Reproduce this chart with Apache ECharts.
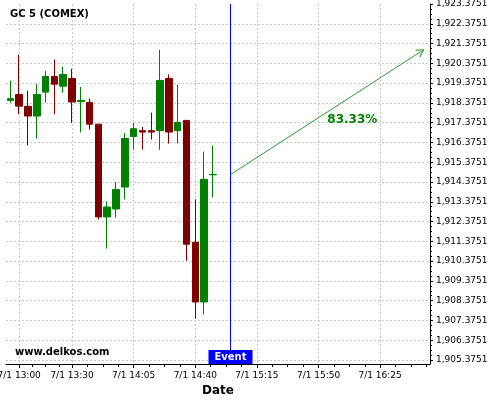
<!DOCTYPE html>
<html>
<head>
<meta charset="utf-8">
<script src="https://cdn.jsdelivr.net/npm/echarts@6/dist/echarts.min.js"></script>
<style>
html,body{margin:0;padding:0;background:#fff;}
#main{width:500px;height:400px;}
</style>
</head>
<body>
<div id="main"></div>
<script>
// ---- data ----
var times = ['12:55','13:00','13:05','13:10','13:15','13:20','13:25','13:30','13:35','13:40','13:45','13:50',
             '13:55','14:00','14:05','14:10','14:15','14:20','14:25','14:30','14:35','14:40','14:45','14:50'];
var opens  = [1918.50,1918.80,1918.20,1917.71,1918.92,1919.71,1919.22,1919.61,1918.44,1918.40,1917.30,1912.61,
              1913.01,1914.12,1916.68,1916.97,1916.97,1916.97,1919.61,1916.97,1917.49,1911.33,1908.31,1914.74];
var closes = [1918.59,1918.21,1917.71,1918.80,1919.71,1919.32,1919.81,1918.42,1918.50,1917.30,1912.61,1913.11,
              1913.99,1916.57,1917.07,1916.90,1916.90,1919.51,1916.90,1917.39,1911.23,1908.31,1914.51,1914.76];
var lows   = [1918.39,1917.80,1916.22,1916.57,1918.39,1917.80,1918.89,1917.37,1916.88,1917.02,1912.48,1911.01,
              1912.58,1913.49,1916.01,1916.01,1916.52,1916.01,1916.32,1916.32,1910.39,1907.46,1907.68,1913.59];
var highs  = [1919.50,1920.81,1918.99,1919.32,1920.00,1920.57,1920.20,1920.10,1919.19,1918.59,1917.30,1913.40,
              1914.38,1916.85,1917.37,1917.16,1917.88,1921.06,1919.82,1919.29,1917.49,1913.50,1915.91,1916.21];

var xTickTimes = ['13:00','13:30','14:05','14:40','15:15','15:50','16:25'];
var xDatePrefix = '7/1 ';
var yTicks = [1905.3751,1906.3751,1907.3751,1908.3751,1909.3751,1910.3751,1911.3751,1912.3751,1913.3751,
              1914.3751,1915.3751,1916.3751,1917.3751,1918.3751,1919.3751,1920.3751,1921.3751,1922.3751,1923.3751];

var eventTime = '15:00';
var forecastStart = ['15:00', 1914.75];
var forecastEnd = ['16:50', 1921.08];
var forecastText = '83.33%';
var titleText = 'GC 5 (COMEX)';
var siteText = 'www.delkos.com';
var xName = 'Date';
var eventText = 'Event';

// axis range
var xMinT = '12:52.5', xMaxT = '16:53.3';
var yMin = 1905.173, yMax = 1923.3751;

function toMin(t){ var p = t.split(':'); return parseInt(p[0],10)*60 + parseFloat(p[1]); }
function pad(n){ return (n<10?'0':'')+n; }
function fmtTime(m){ var h=Math.floor(m/60), mm=Math.round(m-h*60); return h+':'+pad(mm); }
function fmtNum(v){
  var s = v.toFixed(4).split('.');
  return s[0].replace(/\B(?=(\d{3})+(?!\d))/g, ',') + '.' + s[1];
}

var candleData = times.map(function(t,i){ return [toMin(t), opens[i], closes[i], lows[i], highs[i]]; });
var xMajor = xTickTimes.map(toMin);
var xMinor = [];
for (var i=0;i<xMajor.length;i++){
  var step = (i < xMajor.length-1) ? (xMajor[i+1]-xMajor[i]) : (xMajor[i]-xMajor[i-1]);
  for (var k=1;k<4;k++){ var v = xMajor[i] + step*k/4; if (v < toMin(xMaxT)) xMinor.push(v); }
}
var yMinor = [];
for (var j=0;j<yTicks.length-1;j++){ for (var q=1;q<4;q++) yMinor.push(yTicks[j]+q*0.25); }
var yGrid = yTicks.filter(function(v){ return v < yMax - 0.01; });

var fs = [toMin(forecastStart[0]), forecastStart[1]];
var fe = [toMin(forecastEnd[0]), forecastEnd[1]];
var mid = [(fs[0]+fe[0])/2, (fs[1]+fe[1])/2];

var FONT = 'DejaVu Sans';
var gridLine = {show:true, lineStyle:{color:'#c8c8c8', type:[2,2], width:1}};

var chart = echarts.init(document.getElementById('main'), null, {renderer:'canvas'});
var baseX = {type:'value', gridIndex:0, position:'bottom', min:toMin(xMinT), max:toMin(xMaxT), scale:true};
var baseY = {type:'value', gridIndex:0, position:'right', min:yMin, max:yMax, scale:true};

chart.setOption({
  animation:false,
  backgroundColor:'#fff',
  textStyle:{fontFamily:FONT},
  title:[
    {text:titleText, left:10, top:9, padding:0, textStyle:{fontFamily:FONT, fontSize:10, fontWeight:'bold', color:'#000'}},
    {text:siteText, left:15, top:347, padding:0, textStyle:{fontFamily:FONT, fontSize:10, fontWeight:'bold', color:'#000'}}
  ],
  grid:{left:6, right:70, top:4, bottom:36, containLabel:false, outerBoundsMode:'none'},
  xAxis:[
    Object.assign({}, baseX, {
      name:xName, nameLocation:'middle', nameGap:19,
      nameTextStyle:{fontFamily:FONT, fontSize:12, fontWeight:'bold', color:'#000'},
      axisLine:{show:true, onZero:false, lineStyle:{color:'#000', width:1}},
      axisTick:{show:true, length:4, customValues:xMajor, lineStyle:{color:'#000'}},
      axisLabel:{show:true, customValues:xMajor, margin:7, fontFamily:FONT, fontSize:9, color:'#000',
        hideOverlap:false, formatter:function(v){ return xDatePrefix + fmtTime(v); }},
      splitLine:gridLine
    }),
    Object.assign({}, baseX, {
      axisLine:{show:false, onZero:false},
      axisTick:{show:true, length:3, customValues:xMinor, lineStyle:{color:'#000'}},
      axisLabel:{show:false},
      splitLine:{show:false}
    })
  ],
  yAxis:[
    Object.assign({}, baseY, {
      axisLine:{show:true, onZero:false, lineStyle:{color:'#000', width:1}},
      axisTick:{show:true, length:3, customValues:yTicks, lineStyle:{color:'#000'}},
      axisLabel:{show:true, customValues:yTicks, margin:6, fontFamily:FONT, fontSize:9, color:'#000',
        formatter:function(v){ return fmtNum(v); }},
      splitLine:{show:false}
    }),
    Object.assign({}, baseY, {
      axisLine:{show:false, onZero:false},
      axisTick:{show:true, length:2, customValues:yMinor, lineStyle:{color:'#000'}},
      axisLabel:{show:false},
      splitLine:{show:false}
    }),
    Object.assign({}, baseY, {
      axisLine:{show:false, onZero:false},
      axisTick:{show:false, customValues:yGrid},
      axisLabel:{show:false},
      splitLine:gridLine
    })
  ],
  series:[
    {
      type:'candlestick',
      xAxisIndex:0, yAxisIndex:0,
      data:candleData,
      encode:{x:0, y:[1,2,3,4]},
      barWidth:7,
      itemStyle:{color:'#008000', color0:'#800000', borderColor:'#008000', borderColor0:'#800000', borderColorDoji:'#008000', borderWidth:1},
      markLine:{
        silent:true, animation:false,
        symbol:['none','none'],
        label:{show:false},
        lineStyle:{color:'#0000ff', width:1, type:'solid'},
        data:[
          {xAxis:toMin(eventTime), lineStyle:{color:'#0000ff', width:1, type:'solid'}},
          [
            {coord:fs, symbol:'none'},
            {coord:fe, symbol:'path://M5,0 L10,9 L9,9.8 L5,2.2 L1,9.8 L0,9 Z', symbolSize:[9,8], symbolOffset:[0,4],
             lineStyle:{color:'#2e9e2e', width:1, type:'solid'}}
          ]
        ]
      },
      markPoint:{
        silent:true, animation:false,
        symbol:'circle', symbolSize:0,
        data:[
          {coord:[toMin(eventTime), yMin], label:{show:true, position:'top', distance:0, formatter:eventText,
            backgroundColor:'#0000ff', color:'#fff', fontFamily:FONT, fontSize:10, fontWeight:'bold',
            padding:[2,6,1,6], lineHeight:11}},
          {coord:mid, label:{show:true, position:'inside', offset:[25,8], formatter:forecastText,
            color:'#008000', fontFamily:FONT, fontSize:12, fontWeight:'bold'}}
        ]
      }
    }
  ]
});
</script>
</body>
</html>
